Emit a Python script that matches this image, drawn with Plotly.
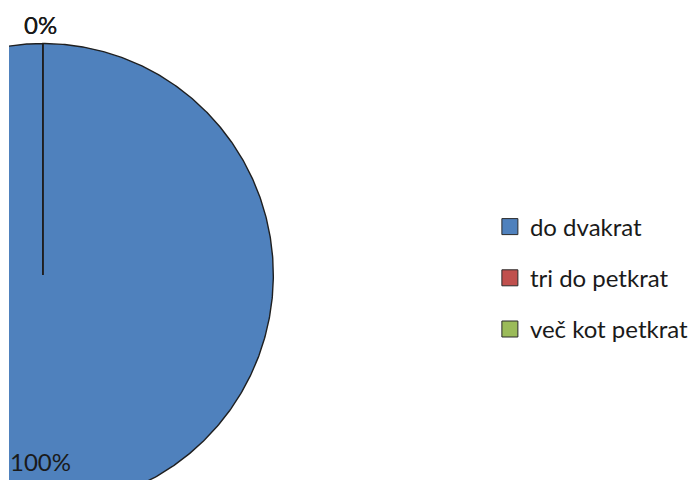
import numpy as np
import plotly.graph_objects as go

# Survey answers and their shares (percent)
categories = ["do dvakrat", "tri do petkrat", "več kot petkrat"]
shares = [100, 0, 0]
colors = ["#4F81BD", "#C0504D", "#9BBB59"]

W, H = 694, 480
LEFT = 9                      # plot area starts a few pixels in from the left
CX, CY, R = 43, 275, 231.5    # pie centre and radius in pixel units
FONT = "Lato"
TEXT_COLOR = "#1a1a1a"
OUTLINE = "#1f1f1f"

fig = go.Figure()

total = float(sum(shares))
start = 0.0  # angle measured clockwise from 12 o'clock
labels = []
for name, value, color in zip(categories, shares, colors):
    frac = value / total
    sweep = frac * 2 * np.pi
    n = max(2, int(frac * 720) + 2)
    theta = np.linspace(start, start + sweep, n)
    xs = np.concatenate([[CX], CX + R * np.sin(theta), [CX]])
    ys = np.concatenate([[CY], CY - R * np.cos(theta), [CY]])
    fig.add_trace(go.Scatter(
        x=xs, y=ys, mode="lines", fill="toself", fillcolor=color,
        line=dict(color=OUTLINE, width=1.4), showlegend=False,
        hoverinfo="skip",
    ))
    mid = start + sweep / 2
    dist = 0.805 * R if frac > 0.1 else 1.082 * R
    labels.append((CX - 2 + dist * np.sin(mid), CY - dist * np.cos(mid), f"{value:g}%"))
    start += sweep

# legend entries
for i, (name, color) in enumerate(zip(categories, colors)):
    fig.add_trace(go.Scatter(
        x=[None], y=[None], mode="markers", name=name,
        legendgroup=f"g{i}",
        marker=dict(symbol="square", size=16, color=color,
                    line=dict(color="#2a2a2a", width=1)),
    ))

for lx, ly, txt in labels:
    fig.add_annotation(x=lx, y=ly, text=txt, showarrow=False,
                       xanchor="center", yanchor="middle",
                       font=dict(family=FONT, size=24, color=TEXT_COLOR))

fig.update_xaxes(range=[LEFT, W], visible=False, fixedrange=True)
fig.update_yaxes(range=[H, 0], visible=False, fixedrange=True)

fig.update_layout(
    width=W, height=H,
    margin=dict(l=LEFT, r=0, t=0, b=0),
    paper_bgcolor="white", plot_bgcolor="white",
    showlegend=True,
    legend=dict(
        x=(492 - LEFT) / (W - LEFT), xanchor="left",
        y=1 - 278 / H, yanchor="middle",
        traceorder="grouped", tracegroupgap=17,
        font=dict(family=FONT, size=24, color=TEXT_COLOR),
        bgcolor="rgba(0,0,0,0)", borderwidth=0,
    ),
)

fig.write_html("out.html")
